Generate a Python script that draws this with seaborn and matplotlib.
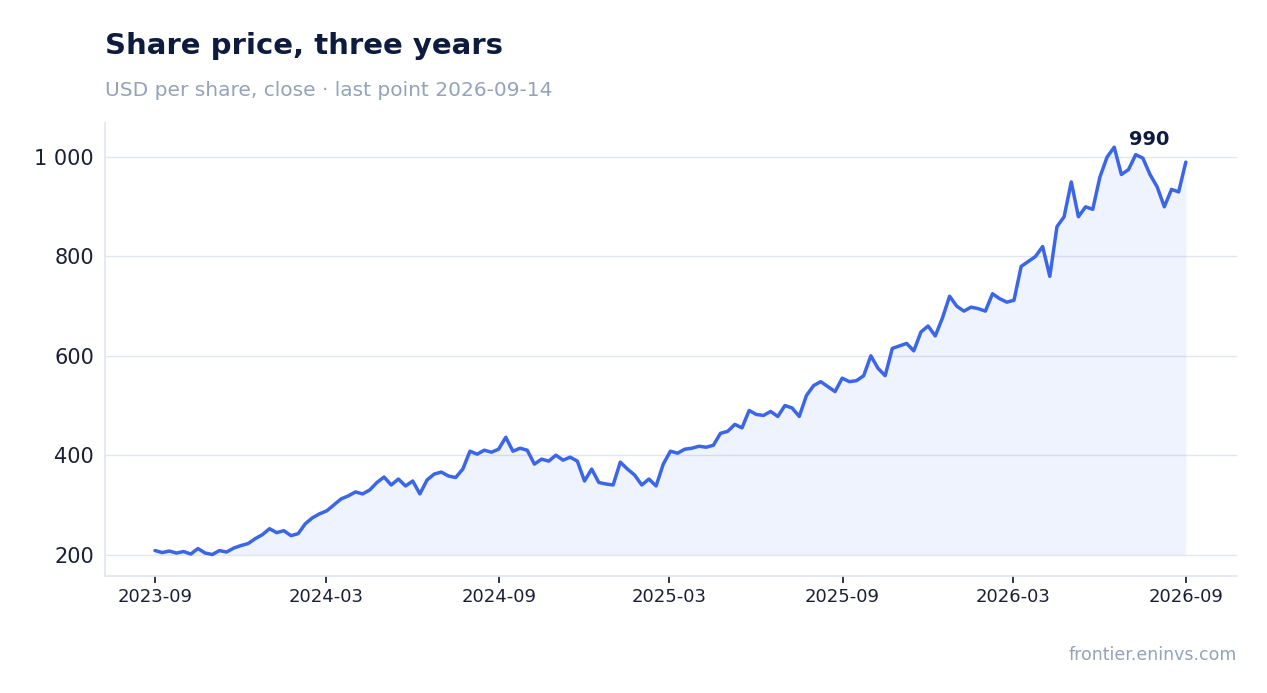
import matplotlib
matplotlib.use("Agg")
import matplotlib.pyplot as plt
import matplotlib.dates as mdates
import matplotlib.ticker as mticker
import seaborn as sns
import pandas as pd

values = [208, 204, 207, 203, 206, 201, 212, 203, 200, 208, 205, 213, 218, 222, 232, 240, 252, 244, 248, 238, 242,
          262, 274, 282, 288, 300, 312, 318, 326, 322, 330, 345, 356, 340, 352, 338, 348, 322, 350, 362, 366, 358,
          355, 372, 408, 402, 410, 406, 412, 436, 408, 414, 410, 382, 392, 388, 400, 390, 396, 388, 348, 372, 345,
          342, 340, 386, 372, 360, 340, 352, 338, 382, 408, 404, 412, 414, 418, 416, 420, 444, 448, 462, 455, 490,
          482, 480, 488, 478, 500, 495, 478, 520, 540, 548, 538, 528, 555, 548, 550, 560, 600, 575, 560, 615, 620,
          625, 610, 648, 660, 640, 676, 720, 700, 690, 698, 695, 690, 725, 715, 708, 712, 780, 790, 800, 820, 760,
          860, 880, 950, 880, 900, 895, 960, 1000, 1020, 965, 975, 1005, 998, 965, 940, 900, 935, 930, 990]
start_date = "2023-09-01"
end_date = "2026-09-01"
dates = pd.date_range(start_date, end_date, periods=len(values))
df = pd.DataFrame({"date": dates, "price": values})

sns.set_theme(style="white")
plt.rcParams['font.family'] = ['DejaVu Sans']
fig = plt.figure(figsize=(12.67, 6.93), dpi=100)
ax = fig.add_axes([0.083, 0.169, 0.893, 0.653])

line_c = "#3b66e8"
sns.lineplot(data=df, x="date", y="price", ax=ax, color=line_c, linewidth=2.5)
ax.fill_between(df["date"], 200, df["price"], color=line_c, alpha=0.08, linewidth=0)

ax.set_ylim(157, 1068)
ax.set_xlim(pd.Timestamp("2023-07-10"), pd.Timestamp("2026-10-25"))
ax.set_yticks([200, 400, 600, 800, 1000])
ax.yaxis.set_major_formatter(mticker.FuncFormatter(lambda v, p: f"{int(v):,}".replace(",", " ")))
ax.set_xticks(pd.to_datetime(["2023-09-01", "2024-03-01", "2024-09-01", "2025-03-01", "2025-09-01", "2026-03-01", "2026-09-01"]))
ax.xaxis.set_major_formatter(mdates.DateFormatter("%Y-%m"))
ax.grid(axis="y", color="#e2e6f0", linewidth=1)
ax.set_xlabel(""); ax.set_ylabel("")
for s in ["top", "right"]:
    ax.spines[s].set_visible(False)
for s in ["left", "bottom"]:
    ax.spines[s].set_color("#e2e6f0")
ax.tick_params(axis="y", labelsize=15, colors="#1a1f36", length=0, pad=8)
ax.tick_params(axis="x", labelsize=13, colors="#1a1f36", length=5, color="#1a1f36", bottom=True)

ax.annotate(f"{values[-1]}", (df["date"].iloc[-1], values[-1]), xytext=(-41, 12), textcoords="offset points",
            fontsize=14, fontweight="bold", color="#0d1b3e")

fig.text(0.083, 0.922, "Share price, three years", fontsize=21, fontweight="bold", color="#0d1b3e")
fig.text(0.083, 0.862, "USD per share, close · last point 2026-09-14", fontsize=14.5, color="#94a3b8")
fig.text(0.976, 0.048, "frontier.eninvs.com", fontsize=12.5, color="#94a3b8", ha="right")
fig.savefig("out.png", dpi=100)
